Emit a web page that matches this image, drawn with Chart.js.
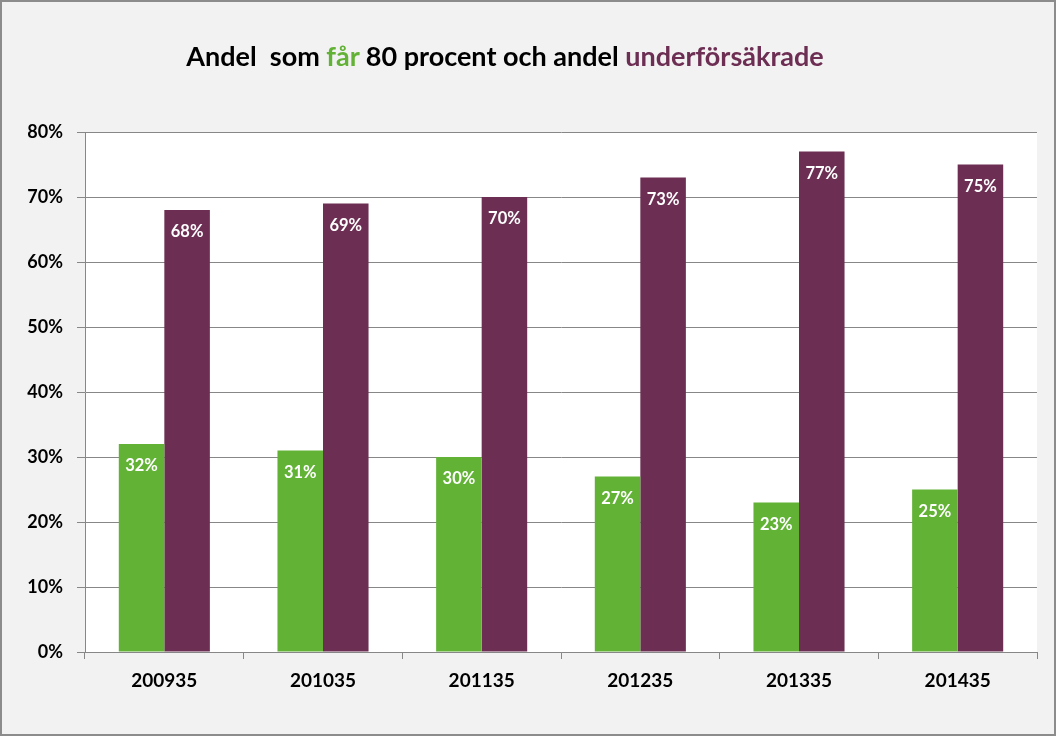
<!DOCTYPE html>
<html>
<head>
<meta charset="utf-8">
<script src="https://cdn.jsdelivr.net/npm/chart.js@4"></script>
<style>
  html, body { margin: 0; padding: 0; background: #f2f2f2; }
  #wrap { position: relative; width: 1056px; height: 736px; }
  #frame { position: absolute; left: 0; top: 0; width: 1056px; height: 736px; box-sizing: border-box; border: 2px solid #8c8c8c; pointer-events: none; }
  #title { position: absolute; left: 0; top: 39px; width: 1010px; text-align: center; font: bold 27px Lato, sans-serif; color: #000; }
  #title .g { color: #62b236; }
  #title .p { color: #6d2e53; }
  canvas { position: absolute; left: 0; top: 0; }
</style>
</head>
<body>
<div id="wrap">
  <canvas id="myChart" width="1056" height="736"></canvas>
  <div id="title">Andel&nbsp; som <span class="g">får</span> 80 procent och andel <span class="p">underförsäkrade</span></div>
  <div id="frame"></div>
</div>
<script>
// andel som får 80 procent / underförsäkrade

var xValues = ['200935', '201035', '201135', '201235', '201335', '201435'];
var far80 = [32, 31, 30, 27, 23, 25];
var underforsakrade = [68, 69, 70, 73, 77, 75];

var fontName = 'Lato, sans-serif';

// vit bakgrund i plotytan
var plotBg = {
    id: 'plotBg',
    beforeDraw: function (chart) {
        var a = chart.chartArea;
        var ctx = chart.ctx;
        ctx.save();
        ctx.fillStyle = '#ffffff';
        ctx.fillRect(a.left, a.top, a.right - a.left, a.bottom - a.top);
        ctx.restore();
    }
};

// etiketter inne i staplarna
var barLabels = {
    id: 'barLabels',
    afterDatasetsDraw: function (chart) {
        var ctx = chart.ctx;
        ctx.save();
        ctx.font = 'bold 16.5px ' + fontName;
        ctx.fillStyle = '#ffffff';
        ctx.textAlign = 'center';
        ctx.textBaseline = 'middle';
        chart.data.datasets.forEach(function (ds, i) {
            chart.getDatasetMeta(i).data.forEach(function (bar, j) {
                ctx.fillText(ds.data[j] + '%', bar.x, bar.y + 22);
            });
        });
        ctx.restore();
    }
};

new Chart("myChart", {
    type: "bar",
    data: {
        labels: xValues,
        datasets: [{
            label: 'får 80 procent',
            data: far80,
            backgroundColor: "#62b236",
            barPercentage: 1,
            categoryPercentage: 0.574
        }, {
            label: 'underförsäkrade',
            data: underforsakrade,
            backgroundColor: "#6d2e53",
            barPercentage: 1,
            categoryPercentage: 0.574
        }]
    },
    options: {
        responsive: false,
        animation: false,
        layout: {
            padding: { top: 132, right: 19, left: 0, bottom: 0 }
        },
        plugins: {
            legend: { display: false },
            title: { display: false },
            tooltip: { enabled: false }
        },
        scales: {
            x: {
                grid: {
                    offset: true,
                    drawOnChartArea: false,
                    color: '#878787',
                    tickLength: 7
                },
                border: { color: '#878787' },
                ticks: {
                    color: '#000',
                    font: { family: fontName, size: 19, weight: 'bold' },
                    padding: 10
                },
                afterFit: function (s) { s.height = 84; }
            },
            y: {
                min: 0,
                max: 80,
                grid: {
                    color: '#878787',
                    tickLength: 8
                },
                border: { color: '#878787' },
                ticks: {
                    stepSize: 10,
                    color: '#000',
                    font: { family: fontName, size: 18, weight: 'bold' },
                    padding: 14,
                    callback: function (v) { return v + '%'; }
                },
                afterFit: function (s) { s.width = 85; }
            }
        }
    },
    plugins: [plotBg, barLabels]
});
</script>
</body>
</html>
